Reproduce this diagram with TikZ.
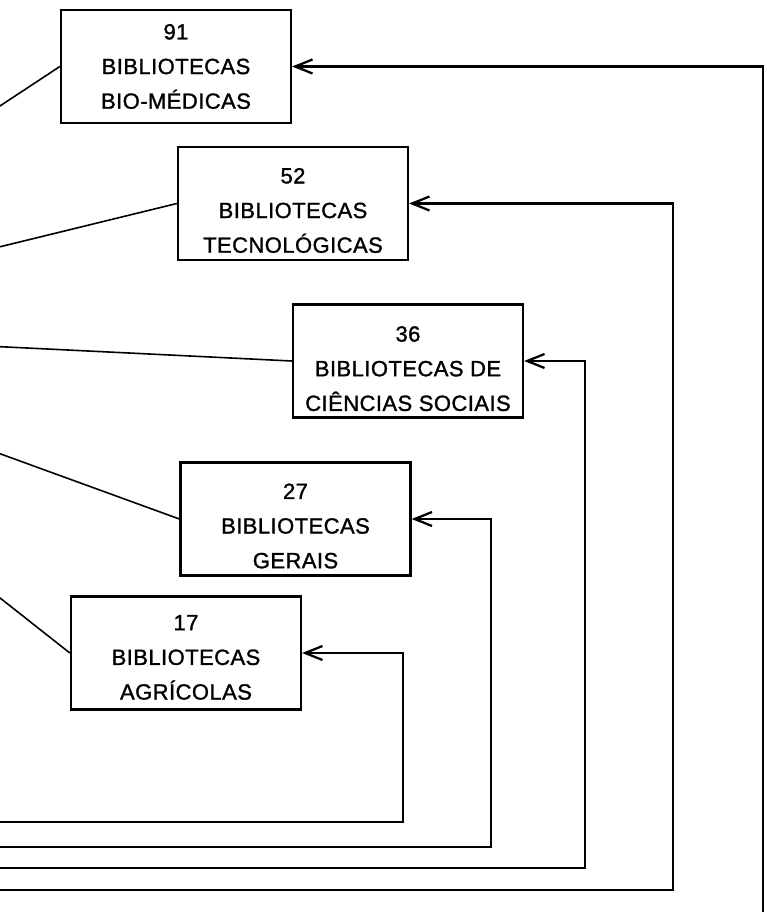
\documentclass[tikz,border=0pt]{standalone}
\usepackage{fontspec}
\newfontfamily\letterfont[FakeBold=1.3,LetterSpace=2]{Liberation Sans}
\usetikzlibrary{arrows.meta}

\begin{document}
\begin{tikzpicture}[x=0.75pt,y=0.75pt,yscale=-1,xscale=1,
  libbox/.style={draw, line width=1.7pt, minimum width=172.5pt, minimum height=84.75pt,
    inner sep=0pt, align=center, font=\letterfont\fontsize{16.5}{26}\selectfont},
  spoke/.style={line width=1.2pt},
  feed/.style={line width=1.7pt, -{Straight Barb[length=13pt,width=10.5pt]}}]
%set diagram size to 766 x 912
\useasboundingbox (0,0) rectangle (766,912);
\clip (0,0) rectangle (766,912);

\node[libbox] (b91) at (176,66.5) {91\\BIBLIOTECAS\\BIO-MÉDICAS};
\node[libbox] (b52) at (293,203.5) {\rule{0pt}{22pt}52\\BIBLIOTECAS\\TECNOLÓGICAS};
\node[libbox] (b36) at (408,361) {\rule{0pt}{23pt}36\\BIBLIOTECAS DE\\CIÊNCIAS SOCIAIS};
\node[libbox] (b27) at (295.5,519) {\rule{0pt}{22pt}27\\BIBLIOTECAS\\GERAIS};
\node[libbox] (b17) at (186,653) {\rule{0pt}{18pt}17\\BIBLIOTECAS\\AGRÍCOLAS};

\coordinate (hub) at (-340,330);
\draw[spoke] (hub) -- (b91.west);
\draw[spoke] (hub) -- (b52.west);
\draw[spoke] (hub) -- (b36.west);
\draw[spoke] (hub) -- (b27.west);
\draw[spoke] (hub) -- (b17.west);

\coordinate (s17) at (-10,822);
\coordinate (c17) at (403,822);
\coordinate (s27) at (-10,847);
\coordinate (c27) at (491,847);
\coordinate (s36) at (-10,868);
\coordinate (c36) at (585,868);
\coordinate (s52) at (-10,890);
\coordinate (c52) at (673,890);
\coordinate (s91) at (-10,918);
\coordinate (c91) at (763,918);

\draw[feed] (s17) -- (c17) |- (b17.east);
\draw[feed] (s27) -- (c27) |- (b27.east);
\draw[feed] (s36) -- (c36) |- (b36.east);
\draw[feed] (s52) -- (c52) |- (b52.east);
\draw[feed] (s91) -- (c91) |- (b91.east);

\end{tikzpicture}
\end{document}
